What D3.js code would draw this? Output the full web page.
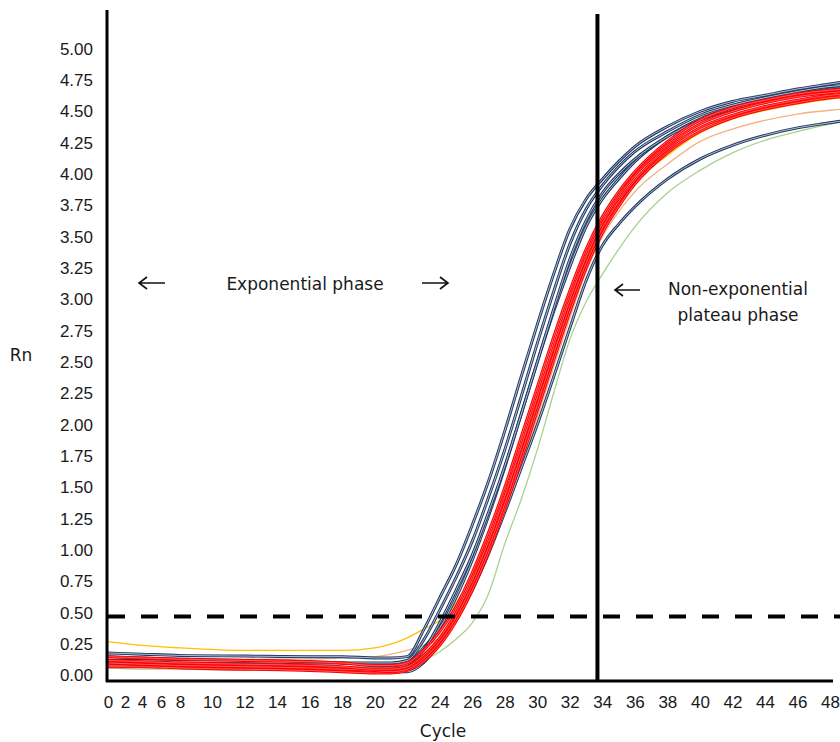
<!DOCTYPE html>
<html>
<head>
<meta charset="utf-8">
<script src="https://cdn.jsdelivr.net/npm/d3@7"></script>
<style>
  body { margin: 0; background: #fff; }
  svg { display: block; font-family: "DejaVu Sans", Verdana, sans-serif; }
</style>
</head>
<body>
<script>
'use strict';

// amplification cycles the curves are sampled at
const cycles = [0, 4, 8, 12, 16, 18, 20, 21, 22, 23, 24, 25, 26, 27, 28, 29, 30, 31, 32, 33, 34, 35, 36, 38, 40, 42, 44, 46, 48, 49];

// Rn readings, one array per well
const navyA = [0.18, 0.17, 0.16, 0.155, 0.15, 0.15, 0.14, 0.14, 0.15, 0.36, 0.62, 0.88, 1.2, 1.55, 1.95, 2.38, 2.8, 3.2, 3.56, 3.8, 3.96, 4.1, 4.22, 4.38, 4.5, 4.58, 4.63, 4.68, 4.72, 4.74];
const navyB = [0.12, 0.12, 0.11, 0.11, 0.1, 0.1, 0.1, 0.1, 0.12, 0.28, 0.52, 0.78, 1.07, 1.42, 1.8, 2.22, 2.65, 3.06, 3.44, 3.72, 3.91, 4.06, 4.18, 4.34, 4.47, 4.55, 4.61, 4.66, 4.7, 4.71];
const navyC = [0.1, 0.09, 0.08, 0.07, 0.06, 0.06, 0.06, 0.06, 0.09, 0.2, 0.42, 0.68, 0.96, 1.3, 1.67, 2.08, 2.5, 2.92, 3.32, 3.63, 3.85, 4.0, 4.12, 4.3, 4.43, 4.52, 4.58, 4.63, 4.67, 4.69];
const navyD = [0.15, 0.14, 0.13, 0.12, 0.11, 0.1, 0.08, 0.07, 0.1, 0.22, 0.38, 0.62, 0.92, 1.27, 1.66, 2.08, 2.5, 2.9, 3.26, 3.58, 3.8, 3.96, 4.1, 4.3, 4.44, 4.53, 4.59, 4.64, 4.68, 4.7];
const navyE = [0.1, 0.09, 0.07, 0.06, 0.05, 0.04, 0.03, 0.03, 0.03, 0.1, 0.26, 0.44, 0.68, 0.97, 1.3, 1.65, 2.0, 2.38, 2.77, 3.15, 3.43, 3.6, 3.74, 3.96, 4.12, 4.23, 4.31, 4.37, 4.41, 4.43];
const red1 = [0.15, 0.14, 0.13, 0.12, 0.11, 0.1, 0.08, 0.08, 0.1, 0.2, 0.35, 0.55, 0.82, 1.14, 1.5, 1.9, 2.3, 2.7, 3.07, 3.4, 3.66, 3.86, 4.02, 4.26, 4.43, 4.53, 4.59, 4.64, 4.67, 4.68];
const red2 = [0.12, 0.11, 0.1, 0.09, 0.08, 0.07, 0.05, 0.05, 0.07, 0.16, 0.3, 0.5, 0.76, 1.07, 1.43, 1.82, 2.22, 2.62, 3.0, 3.34, 3.61, 3.82, 3.99, 4.23, 4.4, 4.5, 4.57, 4.62, 4.65, 4.66];
const red3 = [0.1, 0.09, 0.08, 0.07, 0.06, 0.05, 0.04, 0.03, 0.05, 0.13, 0.27, 0.46, 0.72, 1.02, 1.37, 1.76, 2.16, 2.56, 2.95, 3.29, 3.57, 3.78, 3.95, 4.2, 4.37, 4.47, 4.54, 4.59, 4.63, 4.64];
const red4 = [0.07, 0.07, 0.06, 0.05, 0.04, 0.03, 0.02, 0.02, 0.04, 0.11, 0.24, 0.43, 0.68, 0.98, 1.33, 1.71, 2.11, 2.51, 2.9, 3.25, 3.53, 3.74, 3.92, 4.17, 4.34, 4.45, 4.52, 4.57, 4.61, 4.62];
const orange = [0.15, 0.14, 0.13, 0.13, 0.13, 0.14, 0.15, 0.17, 0.2, 0.24, 0.3, 0.45, 0.68, 0.97, 1.3, 1.67, 2.06, 2.46, 2.85, 3.22, 3.5, 3.7, 3.86, 4.08, 4.26, 4.36, 4.43, 4.48, 4.51, 4.52];
const yellow = [0.27, 0.24, 0.22, 0.2, 0.2, 0.2, 0.22, 0.25, 0.3, 0.37, 0.44, 0.58, 0.8, 1.08, 1.42, 1.8, 2.2, 2.6, 2.98, 3.32, 3.57, 3.77, 3.93, 4.15, 4.33, 4.44, 4.51, 4.56, 4.6, 4.61];
const green = [0.06, 0.05, 0.05, 0.04, 0.04, 0.03, 0.03, 0.04, 0.06, 0.12, 0.19, 0.29, 0.42, 0.65, 1.05, 1.4, 1.8, 2.25, 2.68, 2.98, 3.2, 3.4, 3.58, 3.85, 4.03, 4.17, 4.27, 4.34, 4.4, 4.42];

// axis ticks
const xTicks = d3.range(0, 49, 2);
const yTicks = d3.range(0, 5.01, 0.25);

// threshold and the phase boundary cycle
const thresholdRn = 0.47;
const plateauCycle = 33.7;

(function() {

  const width = 840;
  const height = 742;

  let svg = d3.select('body')
    .append('svg')
    .attr('width', width)
    .attr('height', height);

  // x labels are squeezed at the low end, so the scale has a few knots
  let xScale = d3.scaleLinear()
    .domain([0, 4, 8, 10, 48])
    .range([108, 142, 180, 212, 830]);

  let yScale = d3.scaleLinear()
    .domain([-0.044, 5.31])
    .range([681, 10]);

  // thin wells go first, tubes on top
  let series = [
    { values: green, color: '#a9d18e', kind: 'thin' },
    { values: orange, color: '#f4b183', kind: 'thin' },
    { values: yellow, color: '#ffc000', kind: 'thin' },
    { values: navyE, color: '#1f3864', kind: 'tube' },
    { values: navyD, color: '#1f3864', kind: 'tube' },
    { values: navyC, color: '#1f3864', kind: 'tube' },
    { values: navyB, color: '#1f3864', kind: 'tube' },
    { values: navyA, color: '#1f3864', kind: 'tube' },
    { values: red4, color: '#ff0000', kind: 'tube' },
    { values: red3, color: '#ff0000', kind: 'tube' },
    { values: red2, color: '#ff0000', kind: 'tube' },
    { values: red1, color: '#ff0000', kind: 'tube' }
  ];

  let line = d3.line()
    .x((d, i) => xScale(cycles[i]))
    .y((d) => yScale(d))
    .curve(d3.curveMonotoneX);

  let curves = svg.append('g');
  series.forEach((s) => {
    if (s.kind == 'thin') {
      curves.append('path')
        .attr('d', line(s.values))
        .attr('fill', 'none')
        .attr('stroke', s.color)
        .attr('stroke-width', 1.3);
    } else {
      curves.append('path')
        .attr('d', line(s.values))
        .attr('fill', 'none')
        .attr('stroke', s.color)
        .attr('stroke-width', 2.9);
      // light core gives the outlined look
      curves.append('path')
        .attr('d', line(s.values))
        .attr('fill', 'none')
        .attr('stroke', '#ffffff')
        .attr('stroke-opacity', s.color == '#ff0000' ? 0.4 : 0.75)
        .attr('stroke-width', 0.9);
    }
  });

  // threshold line
  svg.append('line')
    .attr('x1', xScale(0))
    .attr('x2', width)
    .attr('y1', yScale(thresholdRn))
    .attr('y2', yScale(thresholdRn))
    .attr('stroke', '#000')
    .attr('stroke-width', 4)
    .attr('stroke-dasharray', '17,16');

  // plateau boundary
  svg.append('line')
    .attr('x1', xScale(plateauCycle))
    .attr('x2', xScale(plateauCycle))
    .attr('y1', 14)
    .attr('y2', yScale(-0.044))
    .attr('stroke', '#000')
    .attr('stroke-width', 4);

  // axes
  let yAxis = d3.axisLeft(yScale)
    .tickValues(yTicks)
    .tickFormat(d3.format('.2f'))
    .tickSize(0)
    .tickPadding(14);
  let yG = svg.append('g')
    .attr('transform', 'translate(107, 0)')
    .call(yAxis);

  let xAxis = d3.axisBottom(xScale)
    .tickValues(xTicks)
    .tickFormat(d3.format('d'))
    .tickSize(0)
    .tickPadding(15);
  let xG = svg.append('g')
    .attr('transform', 'translate(0, 681)')
    .call(xAxis);

  [yG, xG].forEach((g) => {
    g.select('.domain').remove();
    g.selectAll('text')
      .style('font-size', '17px')
      .attr('fill', '#1a1a1a');
  });

  svg.append('line')
    .attr('x1', 107).attr('x2', 107)
    .attr('y1', 10).attr('y2', 682)
    .attr('stroke', '#000')
    .attr('stroke-width', 3);

  svg.append('line')
    .attr('x1', 106).attr('x2', 833)
    .attr('y1', 681).attr('y2', 681)
    .attr('stroke', '#000')
    .attr('stroke-width', 3);

  // axis titles
  svg.append('text')
    .attr('x', 443)
    .attr('y', 737)
    .attr('text-anchor', 'middle')
    .style('font-size', '17px')
    .attr('fill', '#1a1a1a')
    .text('Cycle');

  svg.append('text')
    .attr('x', 21)
    .attr('y', 361)
    .attr('text-anchor', 'middle')
    .style('font-size', '17px')
    .attr('fill', '#1a1a1a')
    .text('Rn');

  // phase annotations
  function arrow(x1, x2, y) {
    let dir = x2 > x1 ? -1 : 1;
    svg.append('path')
      .attr('d', 'M' + x1 + ',' + y + 'H' + x2 +
        'M' + (x2 + dir * 8) + ',' + (y - 6) + 'L' + x2 + ',' + y + 'L' + (x2 + dir * 8) + ',' + (y + 6))
      .attr('fill', 'none')
      .attr('stroke', '#111')
      .attr('stroke-width', 1.6);
  }

  arrow(165, 139, 283);
  arrow(422, 448, 283);
  arrow(640, 615, 290);

  svg.append('text')
    .attr('x', 305)
    .attr('y', 290)
    .attr('text-anchor', 'middle')
    .style('font-size', '17px')
    .attr('fill', '#1a1a1a')
    .text('Exponential phase');

  svg.append('text')
    .attr('x', 738)
    .attr('y', 295)
    .attr('text-anchor', 'middle')
    .style('font-size', '17px')
    .attr('fill', '#1a1a1a')
    .text('Non-exponential');

  svg.append('text')
    .attr('x', 738)
    .attr('y', 321)
    .attr('text-anchor', 'middle')
    .style('font-size', '17px')
    .attr('fill', '#1a1a1a')
    .text('plateau phase');

})();
</script>
</body>
</html>
